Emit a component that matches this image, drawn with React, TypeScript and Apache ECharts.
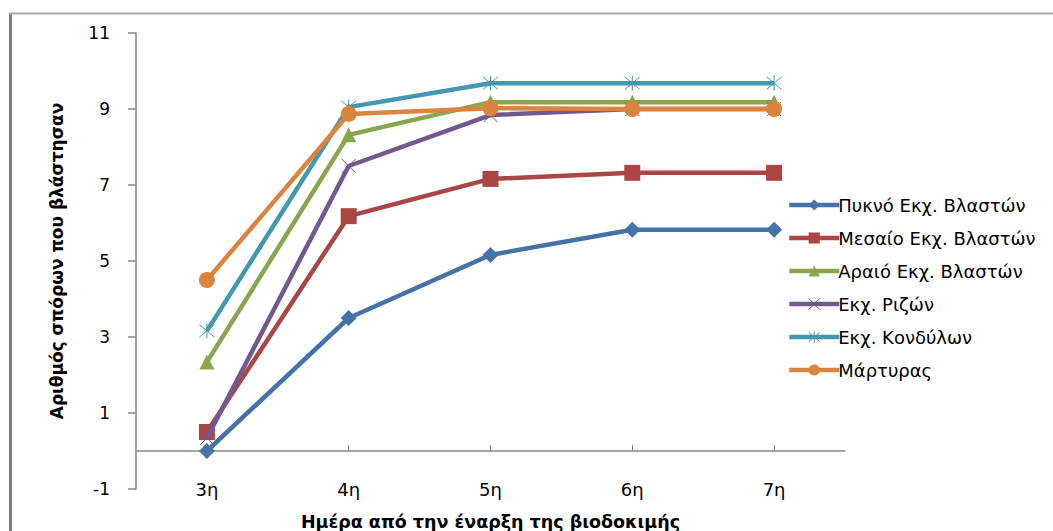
import React, { useEffect, useRef } from "react";
import * as echarts from "echarts";

const categories = ["3η", "4η", "5η", "6η", "7η"];
const pyknoValues = [0, 3.5, 5.16, 5.82, 5.82];
const mesaioValues = [0.5, 6.18, 7.16, 7.32, 7.32];
const araioValues = [2.34, 8.32, 9.18, 9.18, 9.18];
const rizonValues = [0.34, 7.5, 8.84, 9.0, 9.0];
const kondylonValues = [3.16, 9.05, 9.68, 9.68, 9.68];
const martyrasValues = [4.5, 8.87, 9.02, 9.0, 9.0];
const seriesNames = [
  "Πυκνό Εκχ. Βλαστών",
  "Μεσαίο Εκχ. Βλαστών",
  "Αραιό Εκχ. Βλαστών",
  "Εκχ. Ριζών",
  "Εκχ. Κονδύλων",
  "Μάρτυρας",
];
const yTitle = "Αριθμός σπόρων που βλάστησαν";
const xTitle = "Ημέρα από την έναρξη της βιοδοκιμής";

const FONT = "DejaVu Sans";

export default function App() {
  const ref = useRef<HTMLDivElement>(null);
  useEffect(() => {
    if (!ref.current) return;
    const chart = echarts.init(ref.current, null, { renderer: "svg" });
    const colors = ["#4572A7", "#AA4643", "#89A54E", "#71588F", "#4198AF", "#DB843D"];
    const dataSets = [pyknoValues, mesaioValues, araioValues, rizonValues, kondylonValues, martyrasValues];
    const symbols = [
      "diamond",
      "rect",
      "triangle",
      "path://M0,0L10,10M10,0L0,10",
      "path://M0,0L10,10M10,0L0,10M5,-1L5,11",
      "circle",
    ];
    const sizes = [16, 16, 15, 14, 15, 16];
    const series = dataSets.map((d, i) => ({
      name: seriesNames[i],
      type: "line",
      data: d,
      xAxisIndex: 0,
      symbol: symbols[i],
      symbolSize: sizes[i],
      showAllSymbol: true,
      lineStyle: { color: colors[i], width: 4.5 },
      itemStyle:
        i === 3 || i === 4
          ? { color: "rgba(0,0,0,0)", borderColor: colors[i], borderWidth: 1 }
          : { color: colors[i], borderWidth: 0 },
      z: 2 + i,
    }));
    chart.setOption({
      animation: false,
      backgroundColor: "#ffffff",
      grid: { left: 136, right: 208, top: 33, bottom: 42, containLabel: false, outerBoundsMode: "none" },
      legend: {
        orient: "vertical",
        left: 787,
        top: 196,
        padding: 0,
        itemWidth: 50,
        itemHeight: 14,
        itemGap: 15,
        lineStyle: { width: 4.5 },
        textStyle: { fontFamily: FONT, fontSize: 18, color: "#000", padding: [0, 0, 0, -6] },
        data: seriesNames.map((n, i) => ({
          name: n,
          itemStyle:
            i === 3 || i === 4
              ? { color: "rgba(0,0,0,0)", borderColor: colors[i], borderWidth: 1 }
              : { color: colors[i] },
        })),
      },
      xAxis: [
        {
          type: "category",
          data: categories,
          position: "bottom",
          boundaryGap: true,
          axisLine: { show: false, onZero: false },
          axisTick: { show: false },
          axisLabel: { fontFamily: FONT, fontSize: 18, color: "#000", margin: -9 },
          name: xTitle,
          nameLocation: "middle",
          nameGap: 24,
          nameTextStyle: { fontFamily: FONT, fontSize: 17.5, fontWeight: "bold", color: "#000" },
          splitLine: { show: false },
        },
        {
          type: "category",
          data: categories,
          position: "bottom",
          boundaryGap: true,
          axisLine: { show: true, onZero: true, lineStyle: { color: "#868686", width: 1.5 } },
          axisTick: { show: true, alignWithLabel: true, inside: true, length: 6, lineStyle: { color: "#868686" } },
          axisLabel: { show: false },
          splitLine: { show: false },
        },
      ],
      yAxis: {
        type: "value",
        min: -1,
        max: 11,
        interval: 2,
        axisLine: { show: true, lineStyle: { color: "#868686", width: 1.5 } },
        axisTick: { show: true, inside: false, length: 8, lineStyle: { color: "#868686", width: 1.5 } },
        axisLabel: { fontFamily: FONT, fontSize: 17, color: "#000", margin: 26 },
        splitLine: { show: false },
        name: yTitle,
        nameLocation: "middle",
        nameGap: 71,
        nameRotate: 90,
        nameTextStyle: { fontFamily: FONT, fontSize: 17, fontWeight: "bold", color: "#000" },
      },
      graphic: [
        { type: "line", shape: { x1: 10.5, y1: 13, x2: 10.5, y2: 531 }, style: { stroke: "#7f7f7f", lineWidth: 3 }, silent: true },
        { type: "line", shape: { x1: 9, y1: 13.5, x2: 1053, y2: 13.5 }, style: { stroke: "#a6a6a6", lineWidth: 2 }, silent: true },
      ],
      series,
    });
    return () => chart.dispose();
  }, []);
  return (
    <div
      ref={ref}
      style={{ position: "fixed", left: 0, top: 0, width: 1053, height: 531, background: "#fff" }}
    />
  );
}
